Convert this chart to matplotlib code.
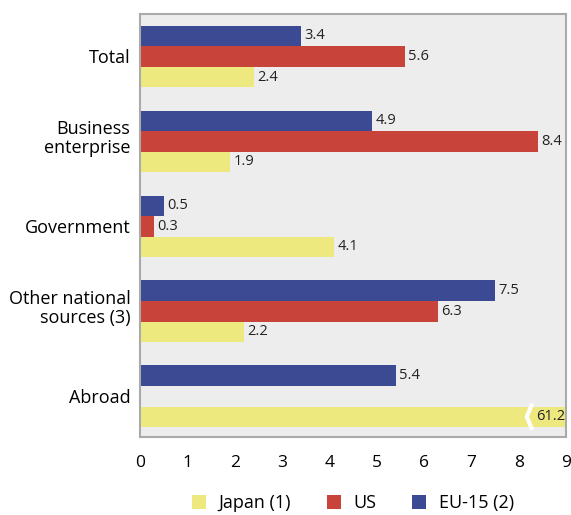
import matplotlib
matplotlib.use("Agg")
import matplotlib.pyplot as plt
import matplotlib.transforms as mtransforms
import numpy as np

plt.rcParams['font.family'] = ['Open Sans', 'DejaVu Sans']

categories = ["Total", "Business\nenterprise", "Government", "Other national\nsources (3)", "Abroad"]
eu15 = [3.4, 4.9, 0.5, 7.5, 5.4]
us = [5.6, 8.4, 0.3, 6.3, np.nan]
japan = [2.4, 1.9, 4.1, 2.2, 61.2]
series_labels = ["Japan (1)", "US", "EU-15 (2)"]
xticks = [0, 1, 2, 3, 4, 5, 6, 7, 8, 9]

c_jp = "#EEE97F"
c_us = "#C8443A"
c_eu = "#3B4A93"

fig = plt.figure(figsize=(5.71, 5.15), dpi=100)
ax = fig.add_axes([140/571, 1-437/515, 426/571, 423/515])
ax.set_facecolor("#EDEDED")

xmax = 9
y = np.arange(len(categories))
h = 0.242
offs = {"eu": -h, "us": 0.0, "jp": h}

bars_eu = ax.barh(y + offs["eu"], eu15, height=h, color=c_eu, label=series_labels[2])
bars_us = ax.barh(y + offs["us"], us, height=h, color=c_us, label=series_labels[1])
bars_jp = ax.barh(y + offs["jp"], japan, height=h, color=c_jp, label=series_labels[0])

def annotate(vals, ypos):
    for v, yy in zip(vals, ypos):
        if np.isnan(v):
            continue
        if v > xmax:
            # bar runs off the scale: show a break and put the value inside the end
            bx = 8.2
            ax.plot([bx + 0.07, bx - 0.03, bx + 0.07],
                    [yy - h/2 - 0.01, yy, yy + h/2 + 0.01],
                    color="white", lw=3.0, solid_joinstyle="miter", zorder=3, clip_on=False)
            ax.text(xmax - 0.02, yy, f"{v:.1f}", va="center", ha="right", fontsize=10.5,
                    color="#222222", zorder=4)
        else:
            ax.text(v + 0.07, yy, f"{v:.1f}", va="center", ha="left", fontsize=10.5,
                    color="#222222")

annotate(eu15, y + offs["eu"])
annotate(us, y + offs["us"])
annotate(japan, y + offs["jp"])

ax.set_xlim(0, xmax)
ax.set_ylim(4.48, -0.5)
ax.set_xticks(xticks)
ax.set_xticklabels([str(t) for t in xticks], fontsize=12.5)
ax.set_yticks(y)
ax.set_yticklabels(categories, fontsize=13, linespacing=1.05)
ax.tick_params(axis="both", length=0, colors="black")
ax.tick_params(axis="x", pad=13)
ax.tick_params(axis="y", pad=7)

# two-line category names sit a little above the group centre
lift = mtransforms.ScaledTranslation(0, 5/100, fig.dpi_scale_trans)
for lbl in ax.get_yticklabels():
    if "\n" in lbl.get_text():
        lbl.set_transform(lbl.get_transform() + lift)

for s in ax.spines.values():
    s.set_color("#AAAAAA")
    s.set_linewidth(1.5)

handles = [bars_jp, bars_us, bars_eu]
fig.legend(handles, series_labels, loc="center", bbox_to_anchor=(0.618, 12/515),
           ncol=3, frameon=False, fontsize=13, handlelength=0.78, handleheight=0.78,
           columnspacing=1.95, handletextpad=0.72, borderpad=0)

fig.savefig("out.png", dpi=100)
